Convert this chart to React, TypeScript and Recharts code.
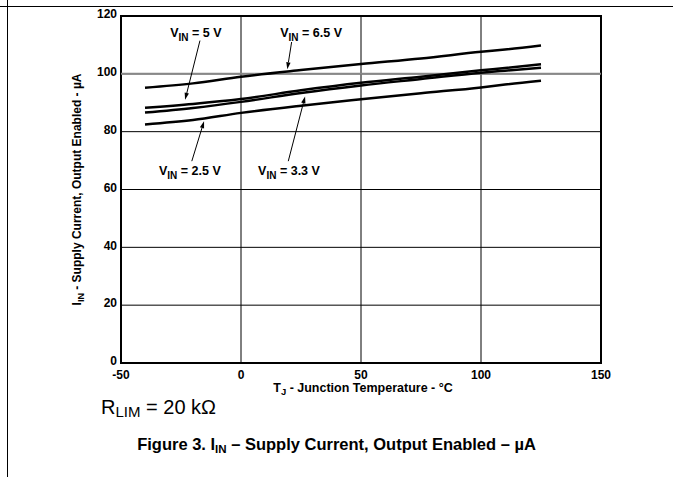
import { LineChart, Line, XAxis, YAxis, CartesianGrid, ReferenceLine, ReferenceArea, ReferenceDot } from 'recharts'

const FONT = '"Liberation Sans", Arial, Helvetica, sans-serif'

// junction temperature (°C) sample points
const temps = [-40, -20, 0, 25, 50, 75, 100, 110, 125]
// supply current (µA) per input voltage
const vin65 = [95.2, 96.7, 99.0, 101.3, 103.4, 105.3, 107.6, 108.4, 109.8]
const vin5 = [88.3, 89.6, 91.3, 94.3, 96.9, 99.0, 101.2, 102.0, 103.3]
const vin33 = [86.6, 88.2, 90.3, 93.4, 96.0, 98.2, 100.4, 101.1, 102.1]
const vin25 = [82.5, 84.0, 86.5, 89.0, 91.2, 93.3, 95.3, 96.3, 97.6]

const xTicks = [-50, 0, 50, 100, 150]
const yTicks = [0, 20, 40, 60, 80, 100, 120]

const seriesKeys = ['v65', 'v5', 'v33', 'v25']

const data = temps.map((t, i) => ({
  t,
  v65: vin65[i],
  v5: vin5[i],
  v33: vin33[i],
  v25: vin25[i]
}))

// callouts: label position and arrow (tail -> head) in data units
const callouts = [
  { label: '5 V', lx: -18.8, ly: 112.7, ax1: -17.1, ay1: 111.5, ax2: -23.3, ay2: 91.0 },
  { label: '6.5 V', lx: 29.2, ly: 112.7, ax1: 21.1, ay1: 111.0, ax2: 19.3, ay2: 101.6 },
  { label: '2.5 V', lx: -21.3, ly: 65.0, ax1: -20.5, ay1: 69.8, ax2: -15.4, ay2: 83.6 },
  { label: '3.3 V', lx: 20.0, ly: 65.0, ax1: 19.7, ay1: 69.8, ax2: 26.7, ay2: 92.2 }
]

const Arrow = (props: any) => {
  const { x1, y1, x2, y2 } = props
  const ang = Math.atan2(y2 - y1, x2 - x1)
  const len = 7
  const w = 2.2
  const bx = x2 - len * Math.cos(ang)
  const by = y2 - len * Math.sin(ang)
  const px = -Math.sin(ang) * w
  const py = Math.cos(ang) * w
  return (
    <g>
      <line x1={x1} y1={y1} x2={bx} y2={by} stroke="#000" strokeWidth={1} />
      <polygon points={`${x2},${y2} ${bx + px},${by + py} ${bx - px},${by - py}`} fill="#000" />
    </g>
  )
}

const calloutText = (label: string) => (props: any) => (
  <text x={props.cx} y={props.cy} textAnchor="middle" fontFamily={FONT} fontWeight="bold" fontSize={12.5} fill="#000">
    V<tspan fontSize={10} dy={4}>IN</tspan>
    <tspan dy={-4}>{` = ${label}`}</tspan>
  </text>
)

const YLabel = (props: any) => {
  const vb = props.viewBox
  const x = vb.x + 20
  const y = vb.y + vb.height / 2
  return (
    <text x={x} y={y} transform={`rotate(-90 ${x} ${y})`} textAnchor="middle" fontFamily={FONT} fontWeight="bold" fontSize={12} fill="#000">
      I<tspan fontSize={9} dy={3}>IN</tspan>
      <tspan dy={-3}> - Supply Current, Output Enabled - µA</tspan>
    </text>
  )
}

const XLabel = (props: any) => {
  const vb = props.viewBox
  const x = vb.x + vb.width / 2 + 2
  const y = vb.y + 29
  return (
    <text x={x} y={y} textAnchor="middle" fontFamily={FONT} fontWeight="bold" fontSize={12.5} fill="#000">
      T<tspan fontSize={9.5} dy={3}>J</tspan>
      <tspan dy={-3}> - Junction Temperature - °C</tspan>
    </text>
  )
}

export default function App() {
  return (
    <div style={{ position: 'absolute', left: 0, top: 0, width: 673, height: 477, background: '#fff', overflow: 'hidden' }}>
      <div style={{ position: 'absolute', left: 0, top: 6, width: 673, height: 0, borderTop: '1.5px solid #000' }} />
      <div style={{ position: 'absolute', left: 7, top: 0, width: 0, height: 477, borderLeft: '1.5px solid #000' }} />
      <div style={{ position: 'absolute', left: 0, top: 0 }}>
        <LineChart width={673} height={477} data={data} margin={{ top: 16, right: 72, bottom: 84, left: 61 }}>
          <CartesianGrid stroke="#000" strokeWidth={1} />
          <XAxis
            dataKey="t"
            type="number"
            domain={[-50, 150]}
            ticks={xTicks}
            axisLine={false}
            tickLine={false}
            tickSize={5}
            height={30}
            tick={{ fill: '#000', fontFamily: FONT, fontWeight: 'bold', fontSize: 12 }}
            label={{ content: XLabel }}
          />
          <YAxis
            type="number"
            domain={[0, 120]}
            ticks={yTicks}
            axisLine={false}
            tickLine={false}
            tickSize={2}
            tickMargin={2}
            width={60}
            tick={{ fill: '#000', fontFamily: FONT, fontWeight: 'bold', fontSize: 12, dy: -2 }}
            label={{ content: YLabel }}
          />
          <ReferenceLine y={100} stroke="#888" strokeWidth={2} />
          <ReferenceArea x1={-50} x2={150} y1={0} y2={120} fill="none" fillOpacity={0} stroke="#000" strokeWidth={2} />
          {seriesKeys.map((k) => (
            <Line key={k} dataKey={k} type="monotone" stroke="#000" strokeWidth={2.5} dot={false} isAnimationActive={false} />
          ))}
          {callouts.map((c) => (
            <ReferenceLine
              key={c.label + 'a'}
              segment={[{ x: c.ax1, y: c.ay1 }, { x: c.ax2, y: c.ay2 }]}
              shape={Arrow}
            />
          ))}
          {callouts.map((c) => (
            <ReferenceDot key={c.label + 't'} x={c.lx} y={c.ly} r={0} shape={calloutText(c.label)} />
          ))}
        </LineChart>
      </div>
      <div style={{ position: 'absolute', left: 101, top: 396, fontFamily: FONT, fontSize: 20, color: '#000', whiteSpace: 'nowrap' }}>
        R<sub style={{ fontSize: 15, verticalAlign: '-3px' }}>LIM</sub> = 20 kΩ
      </div>
      <div style={{ position: 'absolute', left: 0, width: 673, top: 435, textAlign: 'center', fontFamily: FONT, fontSize: 16.5, fontWeight: 'bold', color: '#000', whiteSpace: 'nowrap' }}>
        Figure 3. I<sub style={{ fontSize: 11.5, verticalAlign: '-3px' }}>IN</sub> – Supply Current, Output Enabled – µA
      </div>
    </div>
  )
}
